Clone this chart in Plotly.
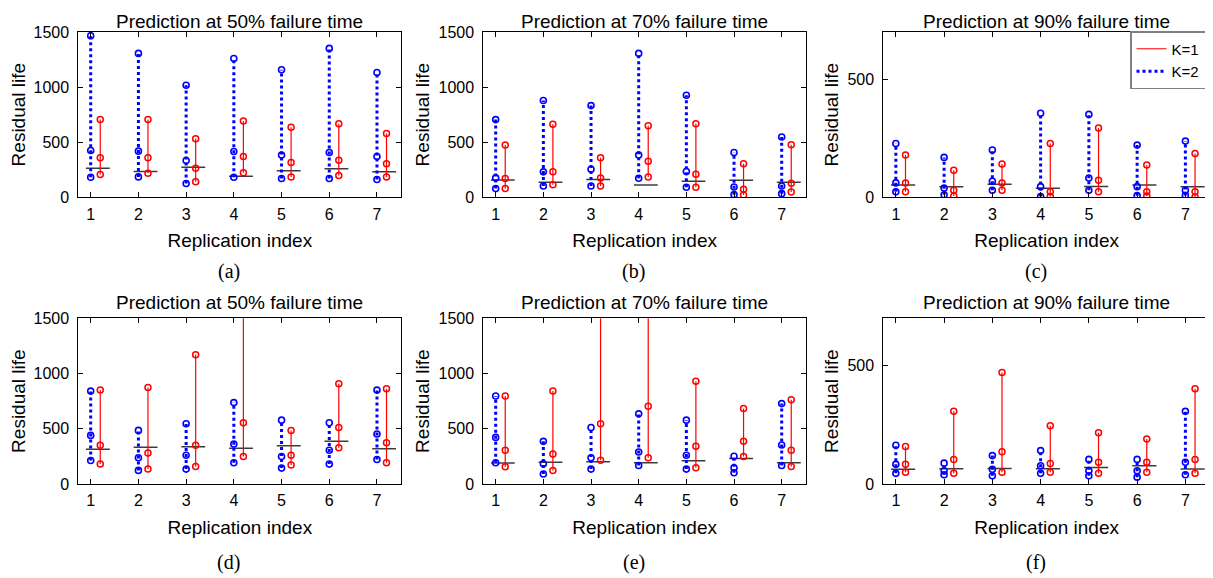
import plotly.graph_objects as go

# page is drawn with an 8px body margin; lay out in page pixels and convert
OFF = 8
PAGE_W, PAGE_H = 1213, 578
W, H = PAGE_W - OFF, PAGE_H - OFF

reps = [1, 2, 3, 4, 5, 6, 7]
tick_labels = ["1", "2", "3", "4", "5", "6", "7"]

# ---- Panel (a): Prediction at 50% failure time (row 1)
a_k2_hi = [1467, 1306, 1017, 1260, 1157, 1351, 1133]
a_k2_md = [425, 419, 334, 416, 383, 407, 370]
a_k2_lo = [182, 185, 125, 182, 170, 170, 161]
a_k1_hi = [705, 705, 531, 692, 635, 668, 580]
a_k1_md = [358, 358, 264, 370, 316, 337, 304]
a_k1_lo = [206, 219, 140, 222, 185, 197, 185]
a_true = [264, 234, 273, 191, 240, 258, 231]

# ---- Panel (b): Prediction at 70% failure time (row 1)
b_k2_hi = [705, 878, 832, 1306, 926, 407, 547]
b_k2_md = [176, 231, 255, 383, 234, 94, 103]
b_k2_lo = [79, 103, 103, 173, 91, 24, 33]
b_k1_hi = [474, 662, 358, 650, 668, 304, 477]
b_k1_md = [170, 231, 176, 328, 210, 73, 128]
b_k1_lo = [79, 115, 103, 185, 91, 21, 49]
b_true = [158, 137, 161, 112, 146, 155, 137]

# ---- Panel (c): Prediction at 90% failure time (row 1)
c_k2_hi = [228, 169, 200, 356, 351, 221, 238]
c_k2_md = [61, 39, 68, 45, 82, 45, 30]
c_k2_lo = [23, 11, 30, 3, 30, 7, 8]
c_k1_hi = [179, 115, 141, 228, 293, 137, 185]
c_k1_md = [61, 30, 61, 24, 72, 24, 24]
c_k1_lo = [23, 6, 30, 3, 23, 6, 1]
c_true = [52, 45, 55, 38, 46, 52, 45]

# ---- Panel (d): Prediction at 50% failure time (row 2)
d_k2_hi = [841, 485, 545, 737, 578, 554, 850]
d_k2_md = [440, 237, 260, 362, 249, 305, 452]
d_k2_lo = [213, 123, 135, 192, 144, 180, 222]
d_k1_hi = [850, 874, 1171, 2000, 485, 907, 862]
d_k1_md = [350, 281, 350, 554, 260, 512, 374]
d_k1_lo = [180, 135, 159, 249, 171, 329, 192]
d_true = [314, 332, 338, 323, 347, 386, 320]

# ---- Panel (e): Prediction at 70% failure time (row 2)
e_k2_hi = [796, 386, 512, 635, 578, 251, 728]
e_k2_md = [422, 183, 237, 290, 260, 147, 353]
e_k2_lo = [192, 90, 135, 168, 135, 102, 168]
e_k1_hi = [796, 841, 2000, 2000, 931, 683, 763]
e_k1_md = [305, 272, 545, 704, 341, 386, 305]
e_k1_lo = [156, 123, 216, 237, 147, 249, 159]
e_true = [189, 198, 201, 192, 210, 231, 192]

# ---- Panel (f): Prediction at 90% failure time (row 2)
f_k2_hi = [164, 88, 120, 141, 104, 104, 307]
f_k2_md = [83, 56, 62, 77, 56, 56, 92]
f_k2_lo = [45, 39, 35, 45, 35, 29, 39]
f_k1_hi = [158, 307, 471, 246, 216, 190, 402]
f_k1_md = [83, 104, 136, 87, 92, 92, 104]
f_k1_lo = [50, 45, 50, 50, 45, 50, 45]
f_true = [62, 64, 66, 64, 70, 77, 63]

titles = ["Prediction at 50% failure time", "Prediction at 70% failure time",
          "Prediction at 90% failure time"] * 2
captions = ["(a)", "(b)", "(c)", "(d)", "(e)", "(f)"]
ymax = [1500, 1500, 700, 1500, 1500, 700]
yticks = [[0, 500, 1000, 1500], [0, 500, 1000, 1500], [0, 500],
          [0, 500, 1000, 1500], [0, 500, 1000, 1500], [0, 500]]

panels = [
    (a_k2_lo, a_k2_md, a_k2_hi, a_k1_lo, a_k1_md, a_k1_hi, a_true),
    (b_k2_lo, b_k2_md, b_k2_hi, b_k1_lo, b_k1_md, b_k1_hi, b_true),
    (c_k2_lo, c_k2_md, c_k2_hi, c_k1_lo, c_k1_md, c_k1_hi, c_true),
    (d_k2_lo, d_k2_md, d_k2_hi, d_k1_lo, d_k1_md, d_k1_hi, d_true),
    (e_k2_lo, e_k2_md, e_k2_hi, e_k1_lo, e_k1_md, e_k1_hi, e_true),
    (f_k2_lo, f_k2_md, f_k2_hi, f_k1_lo, f_k1_md, f_k1_hi, f_true),
]

# panel boxes in page pixels (left, right) and (top, bottom)
col_x = [(78.3, 401.3), (483.3, 806.0), (883.3, 1210.0)]
row_y = [(32.0, 197.3), (318.3, 484.0)]


def px(x):
    return (x - OFF) / W


def py(y):
    return 1 - (y - OFF) / H


BLUE = "rgb(0,0,255)"
RED = "rgb(255,0,0)"
TRUE_COL = "rgb(60,60,60)"
FONT = "Liberation Sans, Arial, sans-serif"

K2_OFF, K1_OFF = 0.0, 0.2
TRUE_L, TRUE_R = -0.1, 0.4

fig = go.Figure()
annotations = []
layout_axes = {}


def segs(xs, ys_list):
    ox, oy = [], []
    for i, vals in zip(xs, zip(*ys_list)):
        ox += [i] * len(vals) + [None]
        oy += list(vals) + [None]
    return ox, oy


for p, (k2lo, k2md, k2hi, k1lo, k1md, k1hi, tru) in enumerate(panels):
    r, c = divmod(p, 3)
    n = p + 1
    xa = "x" if n == 1 else f"x{n}"
    ya = "y" if n == 1 else f"y{n}"

    # true-value horizontal segments
    tx, ty = [], []
    for i, v in zip(reps, tru):
        tx += [i + TRUE_L, i + TRUE_R, None]
        ty += [v, v, None]
    fig.add_trace(go.Scatter(x=tx, y=ty, mode="lines", xaxis=xa, yaxis=ya,
                             line=dict(color=TRUE_COL, width=1.5),
                             showlegend=False, hoverinfo="skip"))

    # K=2 (blue dotted)
    bx, by = segs([i + K2_OFF for i in reps], [k2lo, k2md, k2hi])
    fig.add_trace(go.Scatter(x=bx, y=by, mode="lines", xaxis=xa, yaxis=ya,
                             name="K=2", legendrank=2, showlegend=(p == 2),
                             line=dict(color=BLUE, width=3, dash="dot")))
    fig.add_trace(go.Scatter(x=bx, y=by, mode="markers", xaxis=xa, yaxis=ya,
                             name="K=2", showlegend=False,
                             marker=dict(symbol="circle-open", size=6, color=BLUE,
                                         line=dict(width=1.6, color=BLUE))))

    # K=1 (red solid)
    rx, ry = segs([i + K1_OFF for i in reps], [k1lo, k1md, k1hi])
    fig.add_trace(go.Scatter(x=rx, y=ry, mode="lines", xaxis=xa, yaxis=ya,
                             name="K=1", legendrank=1, showlegend=(p == 2),
                             line=dict(color=RED, width=1.2)))
    fig.add_trace(go.Scatter(x=rx, y=ry, mode="markers", xaxis=xa, yaxis=ya,
                             name="K=1", showlegend=False,
                             marker=dict(symbol="circle-open", size=6, color=RED,
                                         line=dict(width=1.5, color=RED))))

    x0, x1 = col_x[c]
    y0, y1 = row_y[r]
    common = dict(showline=True, linecolor="black", linewidth=1, mirror="ticks",
                  ticks="inside", ticklen=5, tickwidth=1, tickcolor="black",
                  showgrid=False, zeroline=False, automargin=False,
                  tickfont=dict(family=FONT, size=16, color="black"))
    layout_axes["xaxis" if n == 1 else f"xaxis{n}"] = dict(
        domain=[px(x0), px(x1)], anchor=ya, range=[0.74, 7.51],
        tickmode="array", tickvals=reps, ticktext=tick_labels,
        ticklabelstandoff=2,
        title=dict(text="Replication index", standoff=12,
                   font=dict(family=FONT, size=19, color="black")),
        **common)
    layout_axes["yaxis" if n == 1 else f"yaxis{n}"] = dict(
        domain=[py(y1), py(y0)], anchor=xa, range=[0, ymax[p]],
        tickmode="array", tickvals=yticks[p],
        ticklabelstandoff=5,
        title=dict(text="Residual life", standoff=3,
                   font=dict(family=FONT, size=19, color="black")),
        **common)

    cx = (x0 + x1) / 2
    if r == 0:
        title_pos = dict(y=py(8.5), yanchor="top")
    else:
        title_pos = dict(y=py(y0 - 16), yanchor="middle")
    annotations.append(dict(text=titles[p], x=px(cx), xref="paper", yref="paper",
                            showarrow=False, xanchor="center", **title_pos,
                            font=dict(family=FONT, size=19, color="black")))
    cap_y = 271 if r == 0 else 562
    annotations.append(dict(text=captions[p], x=px(cx - 11), y=py(cap_y),
                            xref="paper", yref="paper", showarrow=False,
                            xanchor="center", yanchor="middle",
                            font=dict(family="Liberation Serif, Times New Roman, serif",
                                      size=20, color="black")))

fig.update_layout(
    width=W, height=H,
    margin=dict(l=0, r=0, t=0, b=0, autoexpand=False),
    paper_bgcolor="white", plot_bgcolor="white",
    annotations=annotations,
    legend=dict(x=px(1206), y=py(31), xanchor="right", yanchor="top",
                bgcolor="white", bordercolor="rgb(128,128,128)", borderwidth=1.5,
                font=dict(family=FONT, size=15, color="black"),
                traceorder="normal", itemwidth=30, tracegroupgap=0),
    **layout_axes,
)

fig.write_html("out.html")
